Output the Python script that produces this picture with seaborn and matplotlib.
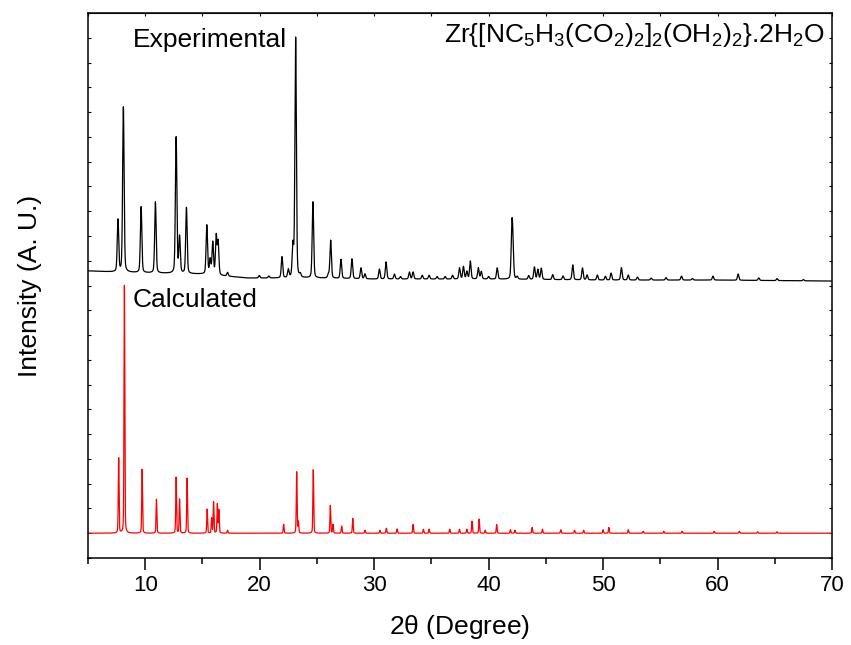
import numpy as np
import pandas as pd
import seaborn as sns
import matplotlib.pyplot as plt
from matplotlib.ticker import MultipleLocator

# peak positions (2theta) and heights, arbitrary units
exp_pos = [7.62, 8.09, 9.64, 10.89, 12.70, 13.00, 13.60, 15.38, 15.67, 15.90,
           16.20, 16.37, 17.19, 19.96, 20.80, 21.95, 22.50, 22.90, 23.14, 23.55,
           24.65, 26.00, 26.20, 27.10, 28.06, 28.85, 29.20, 30.46, 31.04, 31.77,
           32.30, 33.08, 33.40, 34.20, 34.80, 35.50, 36.20, 36.85, 37.46, 37.80,
           38.10, 38.40, 39.10, 39.36, 40.00, 40.75, 42.03, 42.12, 42.50, 43.50,
           44.00, 44.30, 44.60, 45.60, 46.50, 47.35, 48.20, 48.60, 49.50, 50.20,
           50.70, 51.60, 52.20, 53.00, 54.20, 55.50, 56.85, 57.80, 59.60, 61.80,
           63.60, 65.20, 67.50]
exp_height = [2.10, 6.66, 2.66, 2.87, 5.49, 1.45, 2.66, 1.98, 0.60, 1.30,
              1.57, 1.33, 0.15, 0.10, 0.08, 0.85, 0.32, 1.25, 9.69, 0.12,
              3.07, 0.15, 1.53, 0.77, 0.80, 0.44, 0.20, 0.40, 0.69, 0.20,
              0.10, 0.28, 0.28, 0.15, 0.15, 0.10, 0.10, 0.15, 0.45, 0.50,
              0.30, 0.72, 0.45, 0.30, 0.10, 0.45, 1.94, 1.20, 0.10, 0.15,
              0.50, 0.40, 0.45, 0.20, 0.15, 0.60, 0.48, 0.20, 0.20, 0.15,
              0.28, 0.50, 0.20, 0.12, 0.08, 0.10, 0.16, 0.06, 0.16, 0.25,
              0.10, 0.08, 0.05]
# experimental background level
bg_pos = [5, 7, 10, 15, 17, 19, 25, 30, 40, 50, 60, 70]
bg_level = [11.59, 11.55, 11.51, 11.46, 11.38, 11.30, 11.30, 11.26, 11.26,
            11.22, 11.22, 11.18]

calc_pos = [7.68, 8.18, 9.73, 10.98, 12.70, 13.00, 13.66, 15.41, 15.80, 15.97,
            16.30, 16.43, 17.19, 22.09, 23.23, 23.38, 24.68, 26.17, 26.40, 27.16,
            28.13, 29.20, 30.50, 31.06, 32.00, 33.40, 34.30, 34.80, 36.60, 37.45,
            38.10, 38.55, 39.17, 39.70, 40.70, 41.90, 42.30, 43.80, 44.70, 46.30,
            47.50, 48.30, 50.00, 50.50, 52.20, 53.50, 55.30, 56.90, 59.70, 61.90,
            63.50, 65.20]
calc_height = [3.03, 10.0, 2.58, 1.37, 2.26, 1.37, 2.22, 0.97, 0.60, 1.26,
               1.17, 0.93, 0.12, 0.36, 2.47, 0.45, 2.56, 1.12, 0.35, 0.29,
               0.60, 0.12, 0.12, 0.20, 0.17, 0.35, 0.16, 0.16, 0.16, 0.16,
               0.16, 0.49, 0.57, 0.12, 0.35, 0.14, 0.12, 0.23, 0.16, 0.14,
               0.12, 0.12, 0.14, 0.23, 0.14, 0.08, 0.08, 0.08, 0.08, 0.08,
               0.06, 0.06]
calc_base = 1.0

formula = r'Zr{[NC$_5$H$_3$(CO$_2$)$_2$]$_2$(OH$_2$)$_2$}.2H$_2$O'


def pattern(tt, pos, height, fwhm, eta=0.3):
	# pseudo-Voigt peaks summed on the 2theta grid
	y = np.zeros_like(tt)
	for p, h in zip(pos, height):
		d = (tt - p) / (fwhm / 2)
		y += h * ((1 - eta) * np.exp(-np.log(2) * d ** 2) + eta / (1 + d ** 2))
	return y


tt = np.round(np.arange(5, 70.001, 0.01), 2)
exp_y = np.interp(tt, bg_pos, bg_level) + pattern(tt, exp_pos, exp_height, 0.15)
calc_y = calc_base + pattern(tt, calc_pos, calc_height, 0.08)
df = pd.DataFrame({"tt": tt, "exp": exp_y, "calc": calc_y})

sns.set_style("white")
plt.rcParams['font.family'] = ['Liberation Sans', 'DejaVu Sans']
plt.rcParams['mathtext.fontset'] = 'custom'
plt.rcParams['mathtext.rm'] = 'Liberation Sans'
plt.rcParams['mathtext.default'] = 'regular'
plt.rcParams['text.color'] = 'black'
plt.rcParams['axes.labelcolor'] = 'black'
plt.rcParams['xtick.color'] = 'black'
plt.rcParams['ytick.color'] = 'black'

fig = plt.figure(figsize=(8.51, 6.45), dpi=100)
ax = fig.add_axes([0.1034, 0.1349, 0.8743, 0.8449])

sns.lineplot(data=df, x="tt", y="exp", color="black", lw=0.9,
			 estimator=None, sort=False, ax=ax)
sns.lineplot(data=df, x="tt", y="calc", color="red", lw=0.9,
			 estimator=None, sort=False, ax=ax)

ax.set_xlim(5, 70)
ax.set_ylim(0, 22)
ax.xaxis.set_major_locator(MultipleLocator(10))
ax.xaxis.set_minor_locator(MultipleLocator(5))
ax.yaxis.set_major_locator(MultipleLocator(1))
ax.tick_params(axis='x', which='major', direction='out', length=8.5, width=1.1,
			   labelsize=16, pad=4, bottom=True, top=False)
ax.tick_params(axis='x', which='minor', direction='out', length=4, width=1.1,
			   bottom=True, top=False)
ax.tick_params(axis='y', which='major', direction='in', length=2.5, width=0.8,
			   left=True, right=True, labelleft=False)
for s in ax.spines.values():
	s.set_linewidth(1.1)
	s.set_color("black")

# inward ticks on the top spine
top = ax.secondary_xaxis('top')
top.xaxis.set_major_locator(MultipleLocator(10))
top.xaxis.set_minor_locator(MultipleLocator(5))
top.tick_params(which='both', direction='in', length=2.5, width=0.8,
				top=True, labeltop=False)

ax.set_xlabel(r"2$\theta$ (Degree)", fontsize=19, labelpad=12)
ax.set_ylabel("Intensity (A. U.)", fontsize=19, labelpad=33)

ax.text(8.93, 20.63, "Experimental", fontsize=19, va='baseline', ha='left')
ax.text(8.93, 10.13, "Calculated", fontsize=19, va='baseline', ha='left')
ax.text(69.39, 20.83, formula, fontsize=19, va='baseline', ha='right')

fig.savefig("out.png", dpi=100)
